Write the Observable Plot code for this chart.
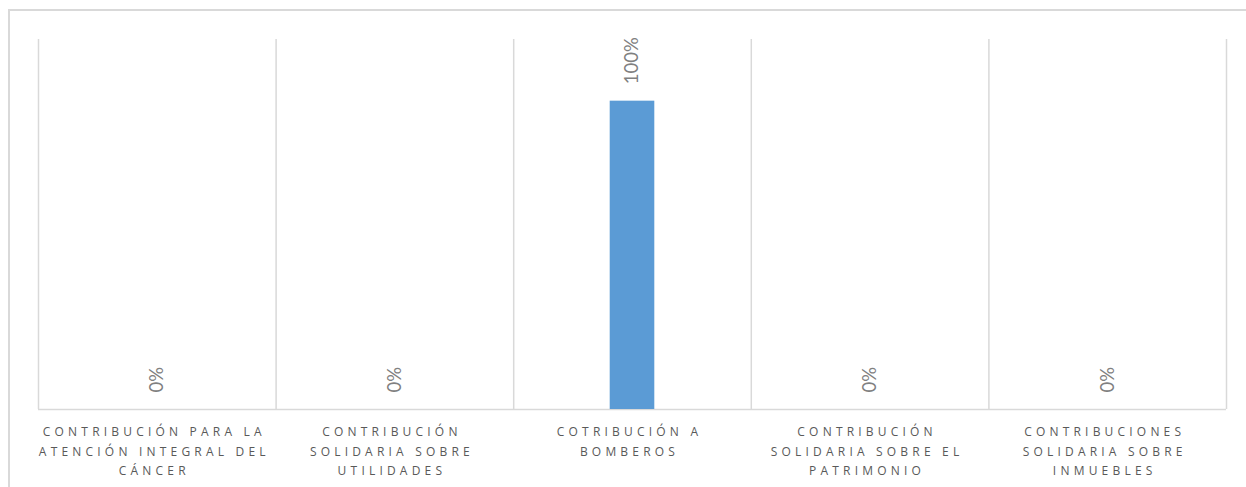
<!DOCTYPE html>
<html>
<head>
<meta charset="utf-8">
<script src="https://cdn.jsdelivr.net/npm/d3@7"></script>
<script src="https://cdn.jsdelivr.net/npm/@observablehq/plot@0.6"></script>
<style>
  html, body { margin: 0; padding: 0; background: #fff; }
  #wrap { position: relative; width: 1246px; height: 487px; overflow: hidden; }
  #frame { position: absolute; left: 8px; top: 9px; width: 1300px; height: 600px;
           border-left: 2px solid #d9d9d9; border-top: 2px solid #d9d9d9; box-sizing: border-box; }
  #chart { position: absolute; left: 0; top: 0; }
  #chart svg g[aria-label="x-axis tick label"] text { letter-spacing: 4.2px; }
</style>
</head>
<body>
<div id="wrap"><div id="frame"></div><div id="chart"></div></div>
<script>
const categories = [
  "CONTRIBUCIÓN PARA LA\nATENCIÓN INTEGRAL DEL\nCÁNCER",
  "CONTRIBUCIÓN\nSOLIDARIA SOBRE\nUTILIDADES",
  "COTRIBUCIÓN A\nBOMBEROS",
  "CONTRIBUCIÓN\nSOLIDARIA SOBRE EL\nPATRIMONIO",
  "CONTRIBUCIONES\nSOLIDARIA SOBRE\nINMUEBLES"
];
const values = [0, 0, 1, 0, 0];
const valueLabels = ["0%", "0%", "100%", "0%", "0%"];

const data = categories.map((c, i) => ({i, c, v: values[i], label: valueLabels[i]}));
const boundaries = d3.range(categories.length + 1);
const centers = data.map(d => d.i + 0.5);

const plot = Plot.plot({
  width: 1246,
  height: 487,
  marginLeft: 38,
  marginRight: 20,
  marginTop: 39,
  marginBottom: 78,
  style: {background: "transparent", overflow: "visible"},
  x: {domain: [0, categories.length], axis: null},
  y: {domain: [0, 1.2], axis: null},
  marks: [
    Plot.ruleX(boundaries, {stroke: "#d9d9d9", strokeWidth: 1.5}),
    Plot.ruleY([0], {stroke: "#d9d9d9", strokeWidth: 1.5}),
    Plot.rectY(data, {x1: "i", x2: d => d.i + 1, y: "v", fill: "#5b9bd5", insetLeft: 96.5, insetRight: 96.5}),
    Plot.text(data, {x: d => d.i + 0.5, y: "v", text: "label", rotate: -90, textAnchor: "start",
      dy: -17, fontSize: 18.5, fill: "#808080", fontFamily: "Lato, 'Open Sans', sans-serif"}),
    Plot.axisX({ticks: centers, tickFormat: d => categories[Math.floor(d)], tickSize: 0, tickPadding: 13,
      dx: -3, fontSize: 12, lineHeight: 1.62, fill: "#595959", fontFamily: "'Open Sans', sans-serif", label: null})
  ]
});
document.getElementById("chart").appendChild(plot);
</script>
</body>
</html>
